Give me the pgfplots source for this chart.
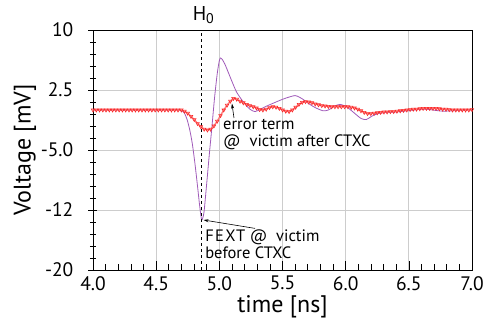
\documentclass[border=0pt]{standalone}
\usepackage{fontspec}
\setmainfont{PT Sans}
\usepackage{pgfplots}
\pgfplotsset{compat=1.18}
\usetikzlibrary{arrows.meta}
\definecolor{vio}{RGB}{160,90,185}
\definecolor{redline}{RGB}{255,125,125}
\definecolor{redmark}{RGB}{250,40,40}
\definecolor{gridgray}{RGB}{205,205,205}
\begin{document}
\begin{tikzpicture}
\begin{axis}[
  at={(0pt,0pt)}, anchor=south west,
  scale only axis, width=379pt, height=240pt,
  xmin=4, xmax=7, ymin=-20, ymax=10,
  xtick={4,4.5,5,5.5,6,6.5,7},
  xticklabels={4.0,4.5,5.0,5.5,6.0,6.5,7.0},
  ytick={-20,-12.5,-5,2.5,10},
  yticklabels={-20,-12,-5.0,2.5,10},
  minor x tick num=4, minor y tick num=4,
  tick pos=left,
  xtick align=inside, ytick align=center,
  major tick length=9pt, minor tick length=6pt,
  tick style={black, line width=0.6pt},
  grid=major, major grid style={gridgray, line width=0.8pt},
  axis line style={black, line width=0.8pt},
  ticklabel style={font=\fontsize{19.5}{22}\selectfont},
  xticklabel style={anchor=north, inner sep=0pt, yshift=-6pt},
  yticklabel style={anchor=east, inner sep=0pt, xshift=-15pt},
  label style={font=\fontsize{24}{26}\selectfont},
  xlabel={time [ns]}, ylabel={Voltage [mV]},
  xlabel style={at={([yshift=-37pt]axis description cs:0.5,0)}, anchor=center},
  ylabel style={at={([xshift=-68pt]axis description cs:0,0.5)}, anchor=center},
  clip=false,
]
\addplot[vio, line width=0.8pt, smooth, tension=0.4] coordinates {
(4.000,0)(4.310,0)(4.621,0)(4.683,0)(4.704,-0.1)(4.724,-0.4)(4.745,-1.2)
(4.766,-2.5)(4.786,-4.2)(4.807,-6.7)(4.828,-9.6)(4.843,-11.8)(4.859,-13.7)
(4.869,-13.5)(4.880,-12.6)(4.900,-9.2)(4.921,-5.5)(4.942,-2.0)(4.962,1.5)
(4.983,4.5)(4.999,6.1)(5.009,6.5)(5.024,6.3)(5.045,5.7)(5.076,4.5)
(5.107,3.3)(5.138,2.2)(5.190,1.0)(5.242,0.1)(5.283,-0.2)(5.325,0.1)
(5.376,0.5)(5.449,1.0)(5.511,1.4)(5.599,1.8)(5.656,1.4)(5.707,0.8)
(5.759,0.3)(5.821,-0.1)(5.863,0.0)(5.914,0.5)(5.956,0.7)(6.008,0.4)
(6.070,-0.4)(6.121,-1.05)(6.163,-1.2)(6.204,-0.8)(6.256,-0.45)(6.328,-0.3)
(6.401,-0.25)(6.484,-0.1)(6.566,0.05)(6.639,0.1)(6.711,-0.05)(6.773,-0.15)
(6.846,-0.1)(6.949,0)(7.000,0)
};
\addplot[redline, line width=1.4pt, mark=triangle, mark size=2pt,
  mark options={rotate=180, redmark, line width=0.6pt, fill=none}] coordinates {
(4.000,0)(4.026,0)(4.052,0)(4.078,0)(4.103,0)(4.129,0)(4.155,0)(4.181,0)
(4.207,0)(4.233,0)(4.259,0)(4.285,0)(4.310,0)(4.336,0)(4.362,0)(4.388,0)
(4.414,0)(4.440,0)(4.466,0)(4.492,0)(4.517,0)(4.543,0)(4.569,0)(4.595,0)
(4.621,0)(4.647,0)(4.673,0)(4.699,0)(4.724,-0.15)(4.750,-0.4)(4.776,-0.8)
(4.802,-1.2)(4.828,-1.7)(4.854,-2.1)(4.880,-2.4)(4.906,-2.5)(4.931,-2.4)
(4.957,-2.0)(4.983,-1.4)(5.009,-0.7)(5.035,0.0)(5.061,0.6)(5.087,1.1)
(5.112,1.45)(5.138,1.35)(5.164,1.1)(5.190,0.9)(5.216,0.7)(5.242,0.55)
(5.268,0.4)(5.294,0.25)(5.319,0.05)(5.345,0.0)(5.371,0.1)(5.397,0.3)
(5.423,0.4)(5.449,0.35)(5.475,0.2)(5.501,0.0)(5.526,-0.15)(5.552,-0.2)
(5.578,0.0)(5.604,0.35)(5.630,0.7)(5.656,0.95)(5.682,1.05)(5.708,1.0)
(5.733,0.9)(5.759,0.75)(5.785,0.65)(5.811,0.55)(5.837,0.5)(5.863,0.45)
(5.889,0.4)(5.915,0.4)(5.940,0.4)(5.966,0.4)(5.992,0.4)(6.018,0.4)
(6.044,0.35)(6.070,0.25)(6.096,0.1)(6.121,-0.1)(6.147,-0.3)(6.173,-0.45)
(6.199,-0.45)(6.225,-0.4)(6.251,-0.35)(6.277,-0.3)(6.303,-0.25)(6.328,-0.25)
(6.354,-0.2)(6.380,-0.2)(6.406,-0.15)(6.432,-0.1)(6.458,-0.05)(6.484,0.0)
(6.510,0.05)(6.535,0.1)(6.561,0.1)(6.587,0.15)(6.613,0.2)(6.639,0.2)
(6.665,0.2)(6.691,0.2)(6.716,0.2)(6.742,0.15)(6.768,0.1)(6.794,0.1)
(6.820,0.05)(6.846,0.0)(6.872,0.0)(6.897,0.0)(6.923,0.0)(6.949,0.0)
(6.975,0.0)(7.000,0.05)
};
\addplot[black, dashed, line width=0.7pt] coordinates {(4.861,-20)(4.861,10)};
\node[anchor=base, font=\fontsize{20}{22}\selectfont, inner sep=0pt] at (axis cs:4.875,11.16) {H\textsubscript{0}};
\draw[-{Stealth[length=5pt,width=3pt]}, line width=0.6pt] (axis cs:5.116,-1.0) -- (axis cs:5.100,0.8);
\node[anchor=north west, align=left, font=\fontsize{16.5}{17}\selectfont, inner sep=0pt] at (axis cs:5.029,-1.15) {error term\\@\ \ victim after CTXC};
\draw[-{Stealth[length=5pt,width=3pt]}, line width=0.6pt] (axis cs:5.283,-14.8) -- (axis cs:4.875,-13.75);
\node[anchor=north west, align=left, font=\fontsize{16.5}{16.5}\selectfont, inner sep=0pt] at (axis cs:4.887,-15.0) {{\addfontfeatures{LetterSpace=8}FEXT} @\ \ victim\\before CTXC};
\end{axis}
\pgfresetboundingbox
\useasboundingbox (-93pt,-56pt) rectangle (400pt,270pt);
\end{tikzpicture}
\end{document}
